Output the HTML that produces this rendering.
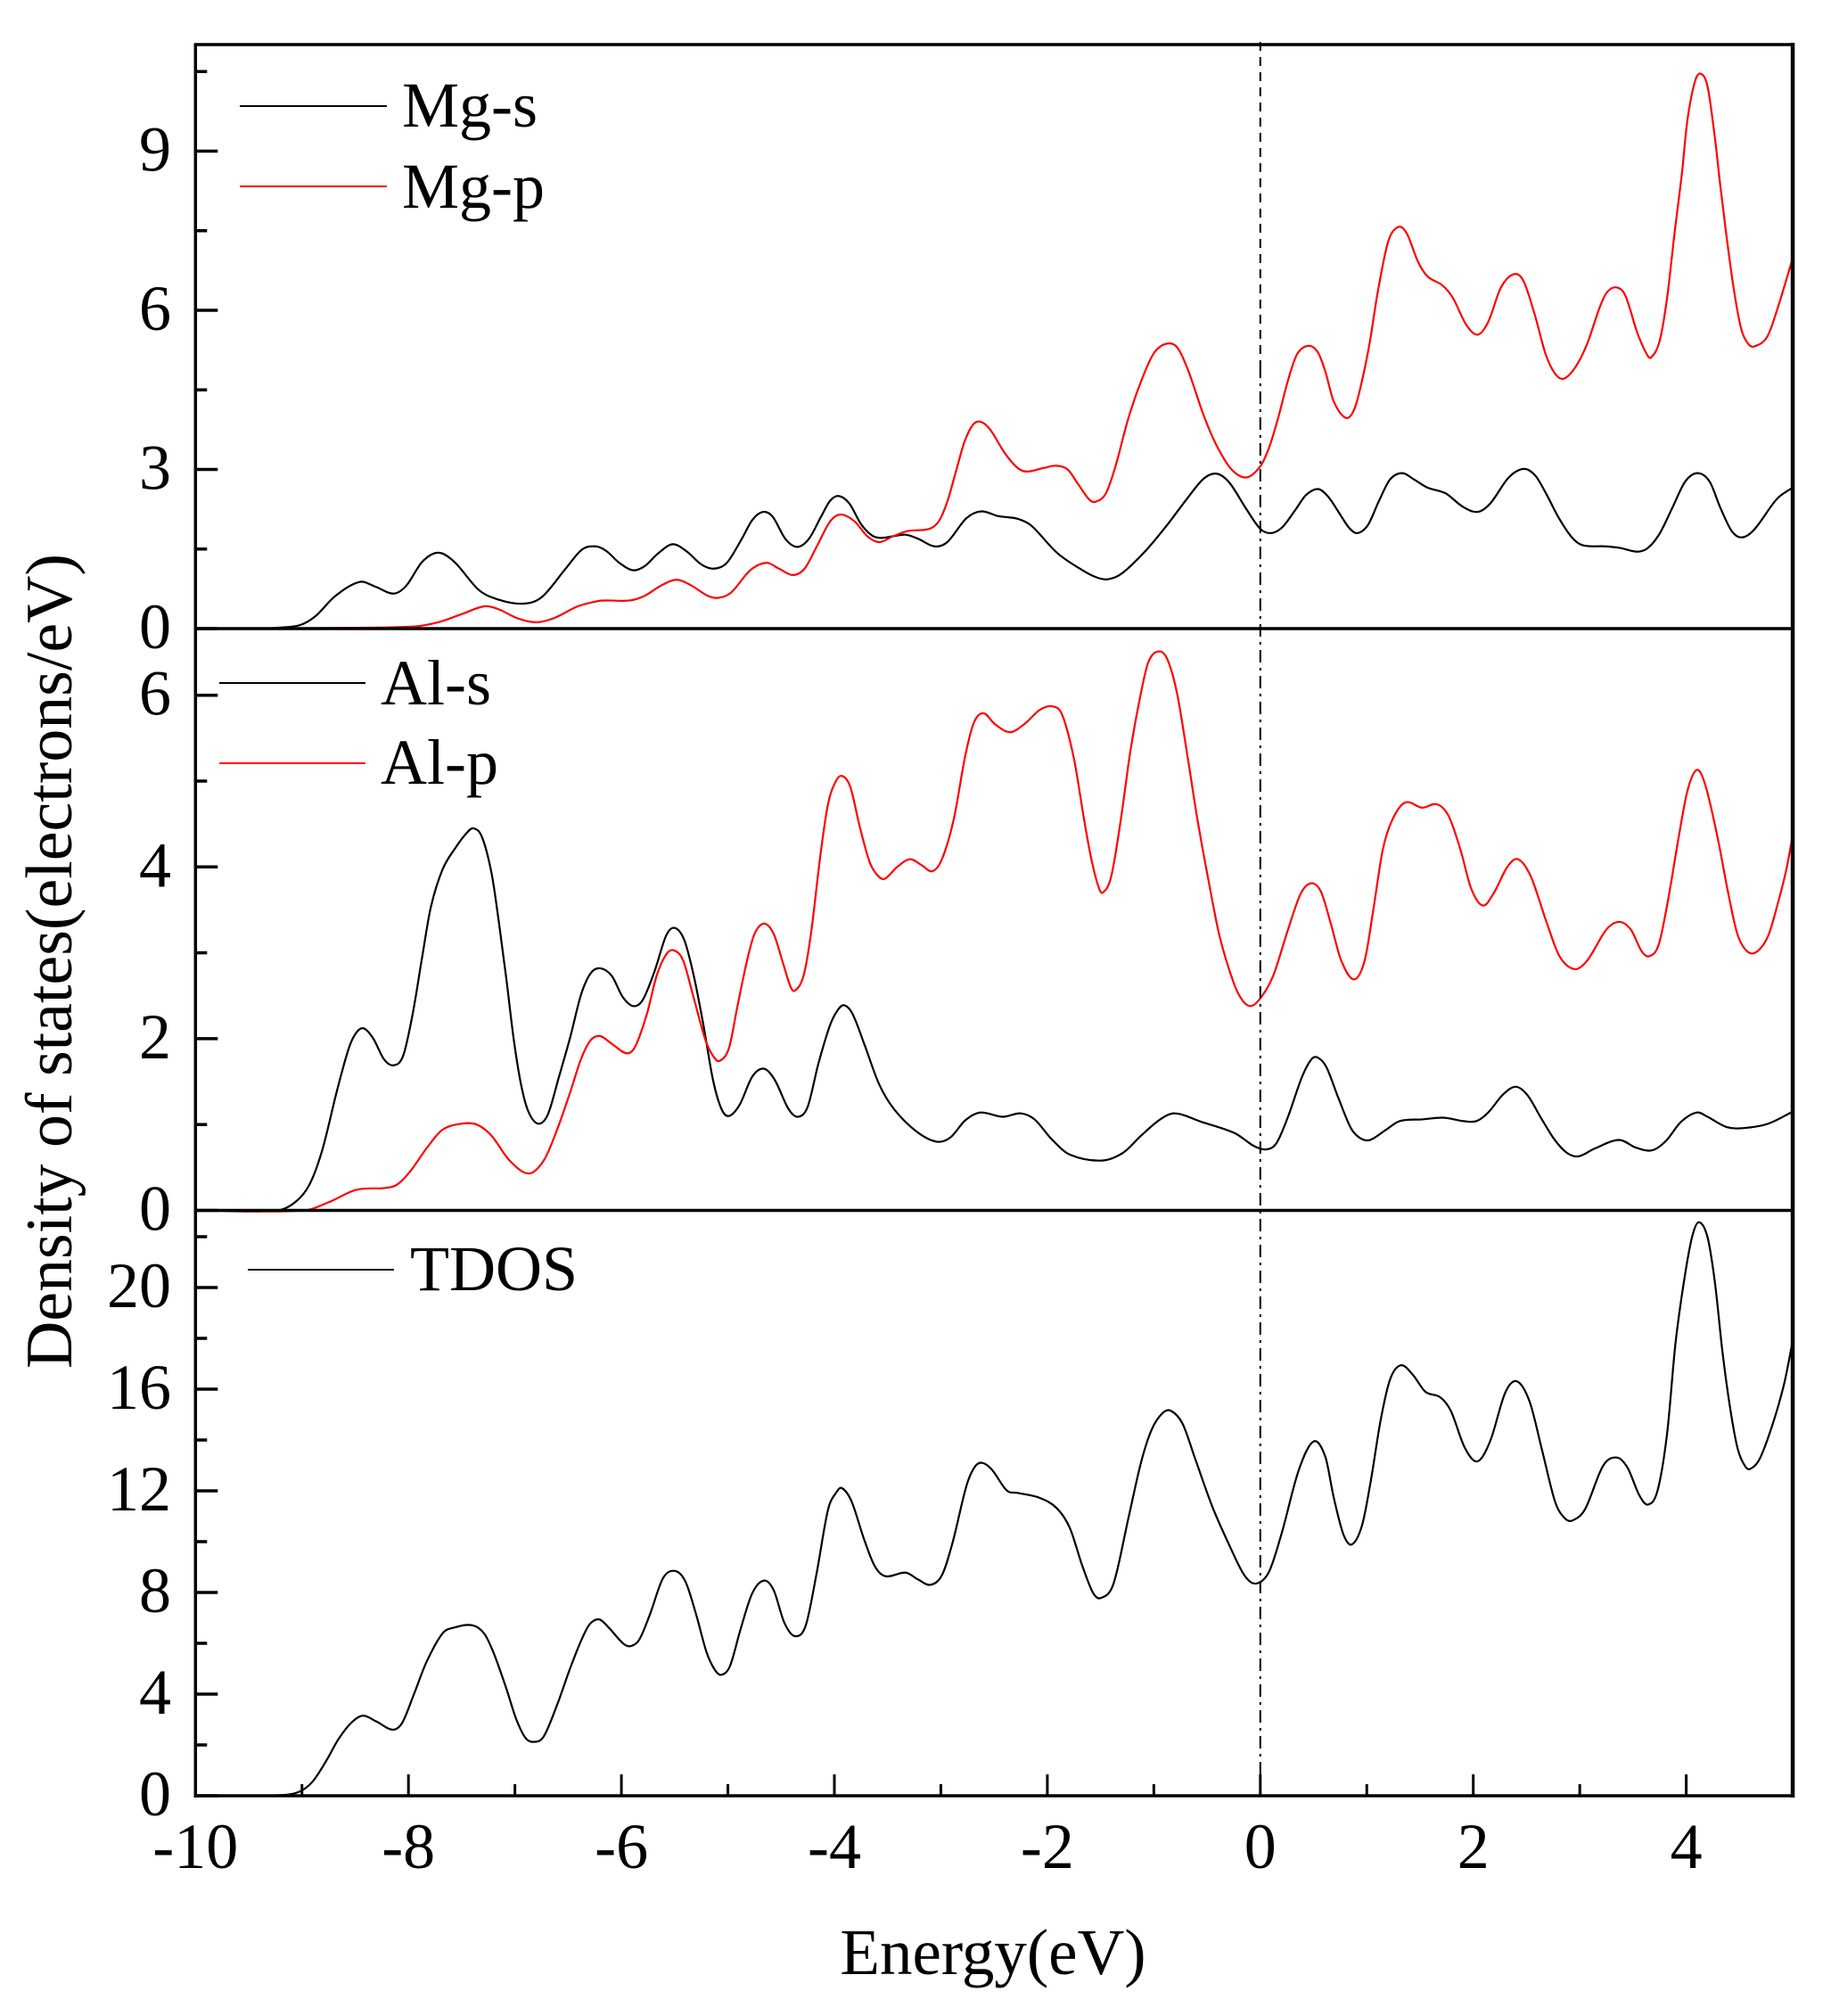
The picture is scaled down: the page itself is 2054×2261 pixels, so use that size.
<!DOCTYPE html>
<html lang="en">
<head>
<meta charset="utf-8">
<title>Density of states</title>
<style>
html,body{margin:0;padding:0;background:#fff;}
svg{display:block;}
text{font-family:"Liberation Serif",serif;fill:#000;}
</style>
</head>
<body>
<svg id="chart" xmlns="http://www.w3.org/2000/svg" width="2054" height="2261" viewBox="0 0 2054 2261">
<rect x="0" y="0" width="2054" height="2261" fill="#fff"/>
<g id="series"></g>
<g id="axes"></g>

<g>
<line x1="269" x2="434" y1="119" y2="119" stroke="#000" stroke-width="2"/>
<text x="451" y="142" font-size="72">Mg-s</text>
<line x1="269" x2="434" y1="209" y2="209" stroke="#f00" stroke-width="2"/>
<text x="451" y="233" font-size="72">Mg-p</text>
</g>
<g>
<line x1="246" x2="410" y1="766" y2="766" stroke="#000" stroke-width="2"/>
<text x="427" y="790" font-size="72">Al-s</text>
<line x1="246" x2="410" y1="856" y2="856" stroke="#f00" stroke-width="2"/>
<text x="427" y="879" font-size="72">Al-p</text>
</g>
<g>
<line x1="278" x2="442" y1="1424" y2="1424" stroke="#000" stroke-width="2"/>
<text x="460" y="1447" font-size="72">TDOS</text>
</g>

<text x="1114" y="2214" font-size="73" text-anchor="middle">Energy(eV)</text>
<text transform="translate(80,1078) rotate(-90)" x="0" y="0" font-size="73.8" text-anchor="middle">Density of states(electrons/eV)</text>
</svg>
<script>
const mgSEnergy = [-10,-9.4,-9.21,-9.02,-8.87,-8.69,-8.46,-8.31,-8.14,-8.02,-7.87,-7.72,-7.57,-7.34,-7.16,-6.93,-6.75,-6.52,-6.37,-6.24,-6.14,-6.02,-5.89,-5.78,-5.66,-5.52,-5.39,-5.25,-5.13,-5.01,-4.87,-4.77,-4.67,-4.58,-4.46,-4.35,-4.24,-4.12,-4.04,-3.96,-3.86,-3.75,-3.65,-3.57,-3.45,-3.33,-3.21,-3.06,-2.94,-2.76,-2.62,-2.46,-2.28,-2.15,-1.91,-1.67,-1.53,-1.43,-1.30,-1.08,-.88,-.68,-.53,-.41,-.29,-.13,0,.10,.206,.33,.43,.544,.64,.747,.834,.91,1.01,1.113,1.218,1.333,1.445,1.567,1.74,1.90,2.04,2.16,2.334,2.474,2.58,2.68,2.805,2.93,3.03,3.24,3.38,3.54,3.64,3.75,3.87,3.99,4.107,4.22,4.32,4.43,4.525,4.64,4.85,5];
const mgSDos = [0,0,.02,.065,.24,.61,.88,.79,.66,.81,1.26,1.43,1.26,.73,.55,.47,.59,1.14,1.49,1.55,1.46,1.24,1.10,1.18,1.41,1.59,1.46,1.21,1.13,1.24,1.69,2.05,2.20,2.11,1.69,1.54,1.69,2.13,2.41,2.50,2.36,1.97,1.76,1.71,1.74,1.77,1.69,1.55,1.63,2.08,2.21,2.12,2.07,1.94,1.43,1.10,.96,.93,1.04,1.46,1.94,2.47,2.83,2.92,2.75,2.25,1.88,1.80,1.91,2.24,2.52,2.63,2.48,2.16,1.90,1.80,1.95,2.40,2.81,2.93,2.81,2.66,2.55,2.30,2.20,2.36,2.85,3.01,2.89,2.56,2.08,1.71,1.57,1.55,1.52,1.45,1.52,1.79,2.28,2.77,2.93,2.77,2.28,1.83,1.72,1.87,2.44,2.66];

const mgPEnergy = [-10,-8.76,-7.94,-7.72,-7.49,-7.29,-7.16,-6.97,-6.80,-6.63,-6.41,-6.22,-6.14,-5.92,-5.78,-5.62,-5.48,-5.35,-5.19,-5.09,-4.97,-4.79,-4.64,-4.52,-4.39,-4.28,-4.16,-4.04,-3.94,-3.81,-3.69,-3.58,-3.45,-3.31,-3.11,-3.02,-2.94,-2.86,-2.78,-2.70,-2.63,-2.54,-2.40,-2.28,-2.19,-2.03,-1.92,-1.81,-1.71,-1.61,-1.55,-1.45,-1.36,-1.24,-1.12,-1.0,-.88,-.78,-.68,-.53,-.41,-.27,-.13,0,.084,.17,.26,.345,.45,.54,.61,.69,.806,.886,.956,1.03,1.10,1.20,1.295,1.375,1.48,1.57,1.71,1.81,1.93,2.04,2.14,2.26,2.38,2.47,2.58,2.68,2.77,2.85,2.96,3.07,3.19,3.26,3.35,3.43,3.54,3.63,3.67,3.75,3.82,3.89,3.96,4.01,4.08,4.135,4.20,4.27,4.32,4.375,4.445,4.515,4.585,4.64,4.76,4.86,5];
const mgPDos = [0,.01,.04,.12,.28,.42,.37,.19,.12,.20,.42,.52,.53,.53,.62,.82,.92,.82,.62,.58,.68,1.10,1.24,1.13,1.01,1.13,1.57,2.02,2.15,2.02,1.74,1.63,1.74,1.84,1.88,2.02,2.39,2.95,3.51,3.84,3.90,3.76,3.31,3.03,2.96,3.03,3.07,3.0,2.72,2.44,2.39,2.55,3.06,3.96,4.66,5.19,5.37,5.30,4.88,4.01,3.45,3.0,2.85,3.06,3.42,3.99,4.68,5.17,5.33,5.21,4.85,4.28,3.97,4.15,4.68,5.42,6.31,7.29,7.57,7.45,6.92,6.64,6.47,6.23,5.74,5.54,5.78,6.43,6.68,6.56,5.90,5.17,4.80,4.71,4.93,5.37,6.07,6.35,6.43,6.27,5.58,5.17,5.11,5.42,6.23,7.45,8.59,9.57,10.30,10.46,10.22,9.24,8.35,7.45,6.42,5.66,5.36,5.32,5.50,6.05,6.98];

const alSEnergy = [-10,-9.23,-9.06,-8.93,-8.81,-8.67,-8.56,-8.49,-8.42,-8.33,-8.23,-8.14,-8.05,-7.96,-7.87,-7.79,-7.68,-7.56,-7.45,-7.39,-7.31,-7.22,-7.15,-7.08,-7.01,-6.94,-6.87,-6.78,-6.69,-6.59,-6.48,-6.38,-6.29,-6.20,-6.09,-5.99,-5.89,-5.80,-5.69,-5.58,-5.50,-5.41,-5.32,-5.23,-5.14,-5.06,-4.99,-4.89,-4.77,-4.66,-4.56,-4.43,-4.34,-4.25,-4.15,-4.04,-3.97,-3.91,-3.83,-3.72,-3.58,-3.44,-3.23,-3.04,-2.91,-2.77,-2.63,-2.42,-2.25,-2.12,-1.96,-1.79,-1.49,-1.29,-1.12,-.94,-.80,-.55,-.24,-.06,.05,.15,.26,.39,.48,.54,.62,.73,.85,.94,1.03,1.17,1.31,1.52,1.72,1.91,2.03,2.14,2.28,2.40,2.51,2.63,2.76,2.88,2.99,3.14,3.37,3.53,3.68,3.81,3.95,4.10,4.20,4.38,4.55,4.77,5];
const alSDos = [0,0,.10,.30,.70,1.40,1.89,2.07,2.12,2.0,1.76,1.69,1.80,2.29,2.96,3.53,3.97,4.22,4.40,4.45,4.35,3.93,3.35,2.69,1.98,1.45,1.14,1.01,1.12,1.54,2.02,2.51,2.76,2.82,2.73,2.49,2.38,2.45,2.78,3.20,3.29,3.15,2.73,2.16,1.52,1.18,1.10,1.23,1.56,1.65,1.52,1.18,1.09,1.21,1.71,2.16,2.33,2.39,2.29,1.94,1.47,1.18,.92,.80,.85,1.05,1.14,1.09,1.13,1.06,.83,.65,.58,.67,.87,1.06,1.13,1.03,.90,.75,.71,.78,1.09,1.55,1.76,1.78,1.67,1.32,.96,.84,.82,.93,1.04,1.06,1.08,1.04,1.04,1.14,1.35,1.44,1.34,1.09,.83,.67,.63,.72,.82,.73,.70,.81,1.03,1.14,1.09,.97,.96,1.01,1.15];

const alPEnergy = [-10,-8.98,-8.74,-8.49,-8.14,-8.0,-7.82,-7.68,-7.50,-7.36,-7.22,-7.05,-6.87,-6.73,-6.61,-6.48,-6.38,-6.29,-6.20,-6.09,-5.95,-5.87,-5.76,-5.67,-5.58,-5.51,-5.42,-5.32,-5.21,-5.14,-5.08,-4.99,-4.91,-4.82,-4.75,-4.66,-4.57,-4.48,-4.41,-4.37,-4.29,-4.22,-4.13,-4.06,-3.99,-3.93,-3.85,-3.76,-3.67,-3.60,-3.53,-3.41,-3.29,-3.18,-3.08,-2.99,-2.88,-2.77,-2.69,-2.60,-2.49,-2.35,-2.21,-2.07,-1.95,-1.86,-1.75,-1.66,-1.59,-1.52,-1.48,-1.40,-1.31,-1.22,-1.13,-1.05,-.95,-.87,-.78,-.68,-.59,-.48,-.38,-.25,-.17,-.09,0,.12,.26,.38,.48,.57,.66,.76,.88,.98,1.06,1.15,1.24,1.36,1.52,1.66,1.77,1.88,1.98,2.09,2.19,2.32,2.42,2.54,2.69,2.81,2.95,3.07,3.25,3.37,3.48,3.58,3.65,3.74,3.83,3.92,4.01,4.10,4.18,4.29,4.40,4.48,4.57,4.66,4.77,4.87,4.94,5];
const alPDos = [0,0,.10,.24,.28,.43,.74,.94,1.01,1.0,.87,.58,.43,.58,.92,1.38,1.76,1.98,2.03,1.94,1.83,1.91,2.29,2.73,2.98,3.03,2.91,2.47,1.98,1.80,1.74,1.89,2.38,2.91,3.22,3.34,3.22,2.87,2.60,2.56,2.73,3.22,4.15,4.73,4.99,5.06,4.93,4.46,4.06,3.91,3.86,4.0,4.09,4.02,3.95,4.09,4.55,5.30,5.68,5.79,5.66,5.57,5.67,5.83,5.87,5.77,5.26,4.59,4.11,3.77,3.70,3.89,4.55,5.35,5.97,6.39,6.51,6.41,6.01,5.26,4.55,3.80,3.18,2.65,2.45,2.38,2.47,2.73,3.27,3.69,3.81,3.71,3.35,2.91,2.69,2.91,3.49,4.20,4.55,4.75,4.69,4.73,4.59,4.20,3.75,3.55,3.69,4.0,4.09,3.89,3.35,2.96,2.81,2.91,3.27,3.36,3.27,3.02,2.96,3.09,3.62,4.28,4.88,5.13,4.95,4.37,3.66,3.22,3.02,3.01,3.20,3.62,3.97,4.37];

const tdosEnergy = [-10,-9.22,-9.03,-8.90,-8.77,-8.66,-8.54,-8.43,-8.30,-8.15,-8.06,-7.95,-7.83,-7.68,-7.57,-7.40,-7.29,-7.20,-7.08,-6.99,-6.90,-6.82,-6.73,-6.60,-6.49,-6.38,-6.30,-6.21,-6.12,-5.98,-5.91,-5.83,-5.73,-5.61,-5.50,-5.40,-5.30,-5.20,-5.12,-5.06,-4.98,-4.88,-4.77,-4.66,-4.57,-4.47,-4.37,-4.27,-4.17,-4.06,-3.98,-3.93,-3.84,-3.72,-3.62,-3.52,-3.33,-3.21,-3.10,-2.99,-2.89,-2.76,-2.68,-2.61,-2.52,-2.38,-2.28,-2.07,-1.91,-1.79,-1.67,-1.57,-1.50,-1.38,-1.24,-1.12,-1.02,-.92,-.84,-.73,-.61,-.45,-.29,-.15,-.045,.08,.20,.36,.50,.61,.69,.78,.86,.956,1.04,1.13,1.22,1.32,1.43,1.55,1.69,1.79,1.92,2.04,2.16,2.30,2.41,2.53,2.65,2.77,2.86,2.93,3.05,3.22,3.35,3.45,3.56,3.64,3.73,3.82,3.90,3.99,4.06,4.12,4.20,4.27,4.34,4.41,4.48,4.55,4.60,4.69,4.81,4.92,5];
const tdosDos = [0,.02,.15,.56,1.39,2.21,2.86,3.15,2.92,2.6,2.86,3.98,5.27,6.39,6.62,6.71,6.39,5.62,4.21,3.04,2.27,2.12,2.33,3.62,4.92,6.09,6.74,6.94,6.62,5.98,5.89,6.16,7.16,8.56,8.85,8.44,7.16,5.64,4.94,4.76,5.11,6.57,7.98,8.47,8.09,6.81,6.28,6.69,8.68,11.25,11.95,12.11,11.6,10.08,9.03,8.64,8.78,8.5,8.30,8.68,9.96,12.19,12.95,13.1,12.83,12.01,11.92,11.72,11.31,10.55,9.03,7.98,7.78,8.33,10.9,13.12,14.41,15.05,15.15,14.64,13.24,11.37,9.85,8.68,8.35,8.8,10.32,12.8,13.94,13.35,11.73,10.29,9.89,10.65,12.45,14.78,16.4,16.94,16.58,15.9,15.68,15.14,13.7,13.16,13.97,15.86,16.31,15.5,13.53,11.55,10.92,10.83,11.28,12.99,13.31,12.9,11.82,11.46,12.0,14.24,17.84,20.54,22.07,22.57,21.98,20.18,17.48,15.32,13.71,12.99,12.86,13.26,14.6,16.22,17.9];

const xMajorTicks = [-10,-8,-6,-4,-2,0,2,4];
const xMinorTicks = [-9,-7,-5,-3,-1,1,3,5];
const mgMajorTicks = [0,3,6,9];
const mgMinorTicks = [1.5,4.5,7.5,10.5];
const alMajorTicks = [0,2,4,6];
const alMinorTicks = [1,3,5];
const tdosMajorTicks = [0,4,8,12,16,20];
const tdosMinorTicks = [2,6,10,14,18,22];

const NS = 'http://www.w3.org/2000/svg';
const seriesLayer = document.getElementById('series');
const axesLayer = document.getElementById('axes');

const X0 = 219.3, XUNIT = 119.45;
function xScale(e){ return X0 + (e + 10) * XUNIT; }
function yMg(v){ return 705 - v * 59.5; }
function yAl(v){ return 1357.5 - v * 96.3; }
function yTdos(v){ return 2014 - v * 28.5; }

function curvePath(xs, ys, yFn){
  const n = xs.length;
  const slope = [];
  for (let i = 0; i < n; i++){
    if (i === 0) slope.push((ys[1] - ys[0]) / (xs[1] - xs[0]));
    else if (i === n - 1) slope.push((ys[n-1] - ys[n-2]) / (xs[n-1] - xs[n-2]));
    else slope.push((ys[i+1] - ys[i-1]) / (xs[i+1] - xs[i-1]));
  }
  let d = 'M' + xScale(xs[0]).toFixed(2) + ' ' + yFn(ys[0]).toFixed(2);
  for (let i = 0; i < n - 1; i++){
    const h = xs[i+1] - xs[i];
    const c1x = xs[i] + h / 3, c1y = ys[i] + slope[i] * h / 3;
    const c2x = xs[i+1] - h / 3, c2y = ys[i+1] - slope[i+1] * h / 3;
    d += 'C' + xScale(c1x).toFixed(2) + ' ' + yFn(c1y).toFixed(2) + ' ' +
         xScale(c2x).toFixed(2) + ' ' + yFn(c2y).toFixed(2) + ' ' +
         xScale(xs[i+1]).toFixed(2) + ' ' + yFn(ys[i+1]).toFixed(2);
  }
  return d;
}

function drawSeries(name, xs, ys, yFn, color){
  const p = document.createElementNS(NS, 'path');
  
  
  p.setAttribute('d', curvePath(xs, ys, yFn));
  p.setAttribute('fill', 'none');
  p.setAttribute('stroke', color);
  p.setAttribute('stroke-width', '2.2');
  p.setAttribute('stroke-linejoin', 'round');
  seriesLayer.appendChild(p);
}

function drawLine(name, x1, y1, x2, y2, w, dash){
  const l = document.createElementNS(NS, 'line');
  
  
  l.setAttribute('x1', x1);
  l.setAttribute('y1', y1);
  l.setAttribute('x2', x2);
  l.setAttribute('y2', y2);
  l.setAttribute('stroke', '#000');
  l.setAttribute('stroke-width', w);
  if (dash) l.setAttribute('stroke-dasharray', dash);
  axesLayer.appendChild(l);
}

function drawLabel(name, x, y, txt, anchor){
  const t = document.createElementNS(NS, 'text');
  
  
  t.setAttribute('x', x);
  t.setAttribute('y', y);
  t.setAttribute('font-size', '72');
  t.setAttribute('text-anchor', anchor);
  t.textContent = txt;
  axesLayer.appendChild(t);
}

function drawYAxis(panel, majors, minors, yFn){
  majors.forEach(function(v){
    drawLine(panel + '-y-major-tick', X0, yFn(v), X0 + 25, yFn(v), 3.5);
    drawLabel(panel + '-y-tick-label', 192, yFn(v) + 22, String(v), 'end');
  });
  minors.forEach(function(v){
    drawLine(panel + '-y-minor-tick', X0, yFn(v), X0 + 13, yFn(v), 3.5);
  });
}

function drawXAxis(){
  const base = yTdos(0);
  xMajorTicks.forEach(function(e){
    drawLine('x-major-tick', xScale(e), base, xScale(e), base - 24, 3);
    drawLabel('x-tick-label', xScale(e), 2095, String(e), 'middle');
  });
  xMinorTicks.forEach(function(e){
    drawLine('x-minor-tick', xScale(e), base, xScale(e), base - 13, 3);
  });
}

drawSeries('mg-s-curve', mgSEnergy, mgSDos, yMg, '#000');
drawSeries('mg-p-curve', mgPEnergy, mgPDos, yMg, '#f00');
drawSeries('al-s-curve', alSEnergy, alSDos, yAl, '#000');
drawSeries('al-p-curve', alPEnergy, alPDos, yAl, '#f00');
drawSeries('tdos-curve', tdosEnergy, tdosDos, yTdos, '#000');

const fermiX = xScale(0);
drawLine('fermi-level-dashed', fermiX, 47, fermiX, 410, 2, '10 7');
drawLine('fermi-level-dashdot', fermiX, 410, fermiX, 1990, 2, '14 6 3 6');

drawYAxis('mg', mgMajorTicks, mgMinorTicks, yMg);
drawYAxis('al', alMajorTicks, alMinorTicks, yAl);
drawYAxis('tdos', tdosMajorTicks, tdosMinorTicks, yTdos);
drawXAxis();

drawLine('frame-left', X0, 48.5, X0, 2016, 3.5);
drawLine('frame-top', X0 - 1.5, 50, xScale(5) + 2, 50, 3.5);
drawLine('frame-right', xScale(5), 48, xScale(5), 2016, 4.5);
drawLine('panel-divider-mg-al', X0, yMg(0), xScale(5), yMg(0), 3.5);
drawLine('panel-divider-al-tdos', X0, yAl(0), xScale(5), yAl(0), 3.5);
drawLine('frame-bottom', X0 - 1.5, yTdos(0), xScale(5) + 2, yTdos(0), 3.5);
</script>
</body>
</html>
